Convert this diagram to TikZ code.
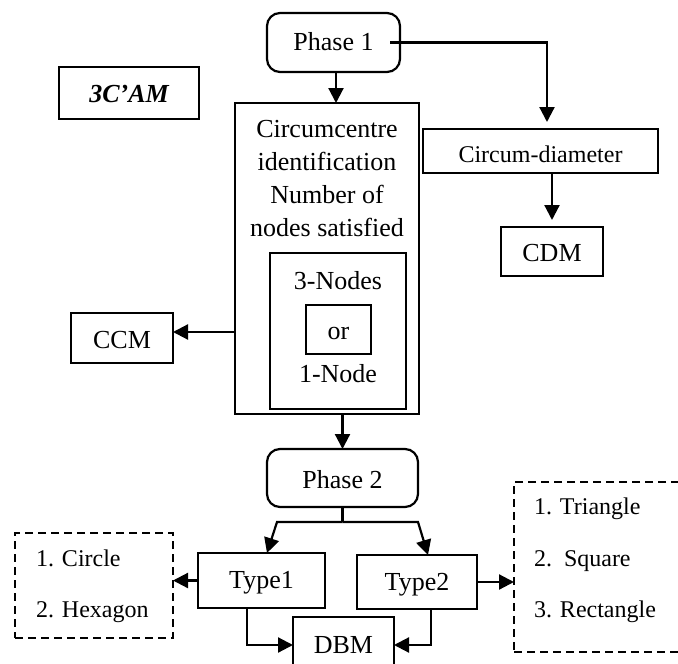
\documentclass[tikz,border=0pt]{standalone}
\usepackage{fontspec}
\setmainfont{Liberation Serif}
\usetikzlibrary{arrows.meta,calc}
\begin{document}
\begin{tikzpicture}[x=1pt,y=-1pt,
  every node/.style={inner sep=0pt, outer sep=0pt},
  box/.style={draw, line width=2.2pt, rectangle,
    font=\fontsize{26}{30}\selectfont, text height=18.5pt, text depth=0pt},
  phasebox/.style={box, rounded corners=13pt},
  dashbox/.style={draw, line width=2.2pt, dash pattern=on 8pt off 5pt},
  lbl/.style={font=\fontsize{26}{30}\selectfont, anchor=base},
  small/.style={font=\fontsize{24}{28}\selectfont, anchor=base west},
  link/.style={line width=2.2pt},
  arr/.style={link, -{Triangle[length=15pt,width=15pt]}},
]
\clip (0,0) rectangle (678,664);

% title
\node[box, minimum width=140pt, minimum height=52pt,
  font=\fontsize{26}{30}\selectfont\bfseries\itshape] (cam) at (129,93) {3C’AM};

% phase 1 and its branches
\node[phasebox, minimum width=133pt, minimum height=59pt, text height=16pt] (phaseA) at (333.5,42.5) {Phase 1};

\node[box, minimum width=184pt, minimum height=311pt] (ccbox) at (327,258.5) {};
\node[lbl] (cc1) at (327,137) {Circumcentre};
\node[lbl] (cc2) at (327,170) {identification};
\node[lbl] (cc3) at (327,203) {Number of};
\node[lbl] (cc4) at (327,236) {nodes satisfied};
\node[draw, line width=2.2pt, minimum width=136pt, minimum height=156pt] (nodesbox) at (338,331) {};
\node[lbl] (n3) at (338,289) {3-Nodes};
\node[box, minimum width=65pt, minimum height=49pt, text height=20pt] (orbox) at (338.5,329.5) {or};
\node[lbl] (n1) at (338,382) {1-Node};

\node[box, minimum width=102pt, minimum height=50pt, text height=20pt] (ccm) at (122,338) {CCM};

\node[box, minimum width=235pt, minimum height=44pt, text height=22pt,
  font=\fontsize{24}{28}\selectfont] (diam) at (540.5,151) {Circum-diameter};
\node[box, minimum width=102pt, minimum height=49pt, text height=20.5pt] (cdm) at (552,251.5) {CDM};

% phase 2 and the shape types
\node[phasebox, minimum width=151pt, minimum height=58pt, text height=20pt] (phaseB) at (342.5,478) {Phase 2};
\node[box, minimum width=127pt, minimum height=55pt, text height=15.5pt] (type1) at (261.5,580.5) {Type1};
\node[box, minimum width=120pt, minimum height=54pt, text height=16pt] (type2) at (417,582) {Type2};
\node[box, minimum width=101pt, minimum height=56pt, text height=16pt] (dbm) at (343.5,645) {DBM};

\node[dashbox, minimum width=158pt, minimum height=105pt] (leftdash) at (94,585.5) {};
\node[small] (s1) at (36,566) {1. Circle};
\node[small] (s2) at (36,617) {2. Hexagon};

\node[dashbox, minimum width=186pt, minimum height=170pt] (rightdash) at (607,567) {};
\node[small] (s3) at (534,514) {1. Triangle};
\node[small] (s4) at (534,566) {2.\ \ Square};
\node[small] (s5) at (534,617) {3. Rectangle};

% connectors
\coordinate (pa) at ([xshift=2.5pt]phaseA.south);
\draw[arr] (pa) -- (pa |- ccbox.north);

\coordinate (pr) at ([xshift=-10pt]phaseA.east);
\coordinate (dtop) at ([xshift=6.5pt]diam.north);
\draw[arr, shorten >=7pt] (pr) -| (dtop);

\draw[arr, shorten >=7pt] (cdm.north |- diam.south) -- (cdm.north);

\coordinate (ccmA) at ([yshift=6pt]ccm.east);
\draw[arr] (ccmA -| ccbox.west) -- (ccmA);

\draw[arr] (phaseB.north |- ccbox.south) -- (phaseB.north);

\coordinate (sp) at (phaseB.south |- 0,522);
\coordinate (spL) at (277,522);
\coordinate (spR) at (418,522);
\draw[link] (phaseB.south) -- (sp);
\draw[arr] (sp) -- (spL) -- ([xshift=5.5pt]type1.north);
\draw[arr] (sp) -- (spR) -- ([xshift=11pt]type2.north);

\draw[arr] ([xshift=-14.5pt]type1.south) |- (dbm.west);
\draw[arr] ([xshift=14pt]type2.south) |- (dbm.east);

\draw[arr] (type1.west) -- (type1.west -| leftdash.east);
\draw[arr] (type2.east) -- (type2.east -| rightdash.west);
\end{tikzpicture}
\end{document}
